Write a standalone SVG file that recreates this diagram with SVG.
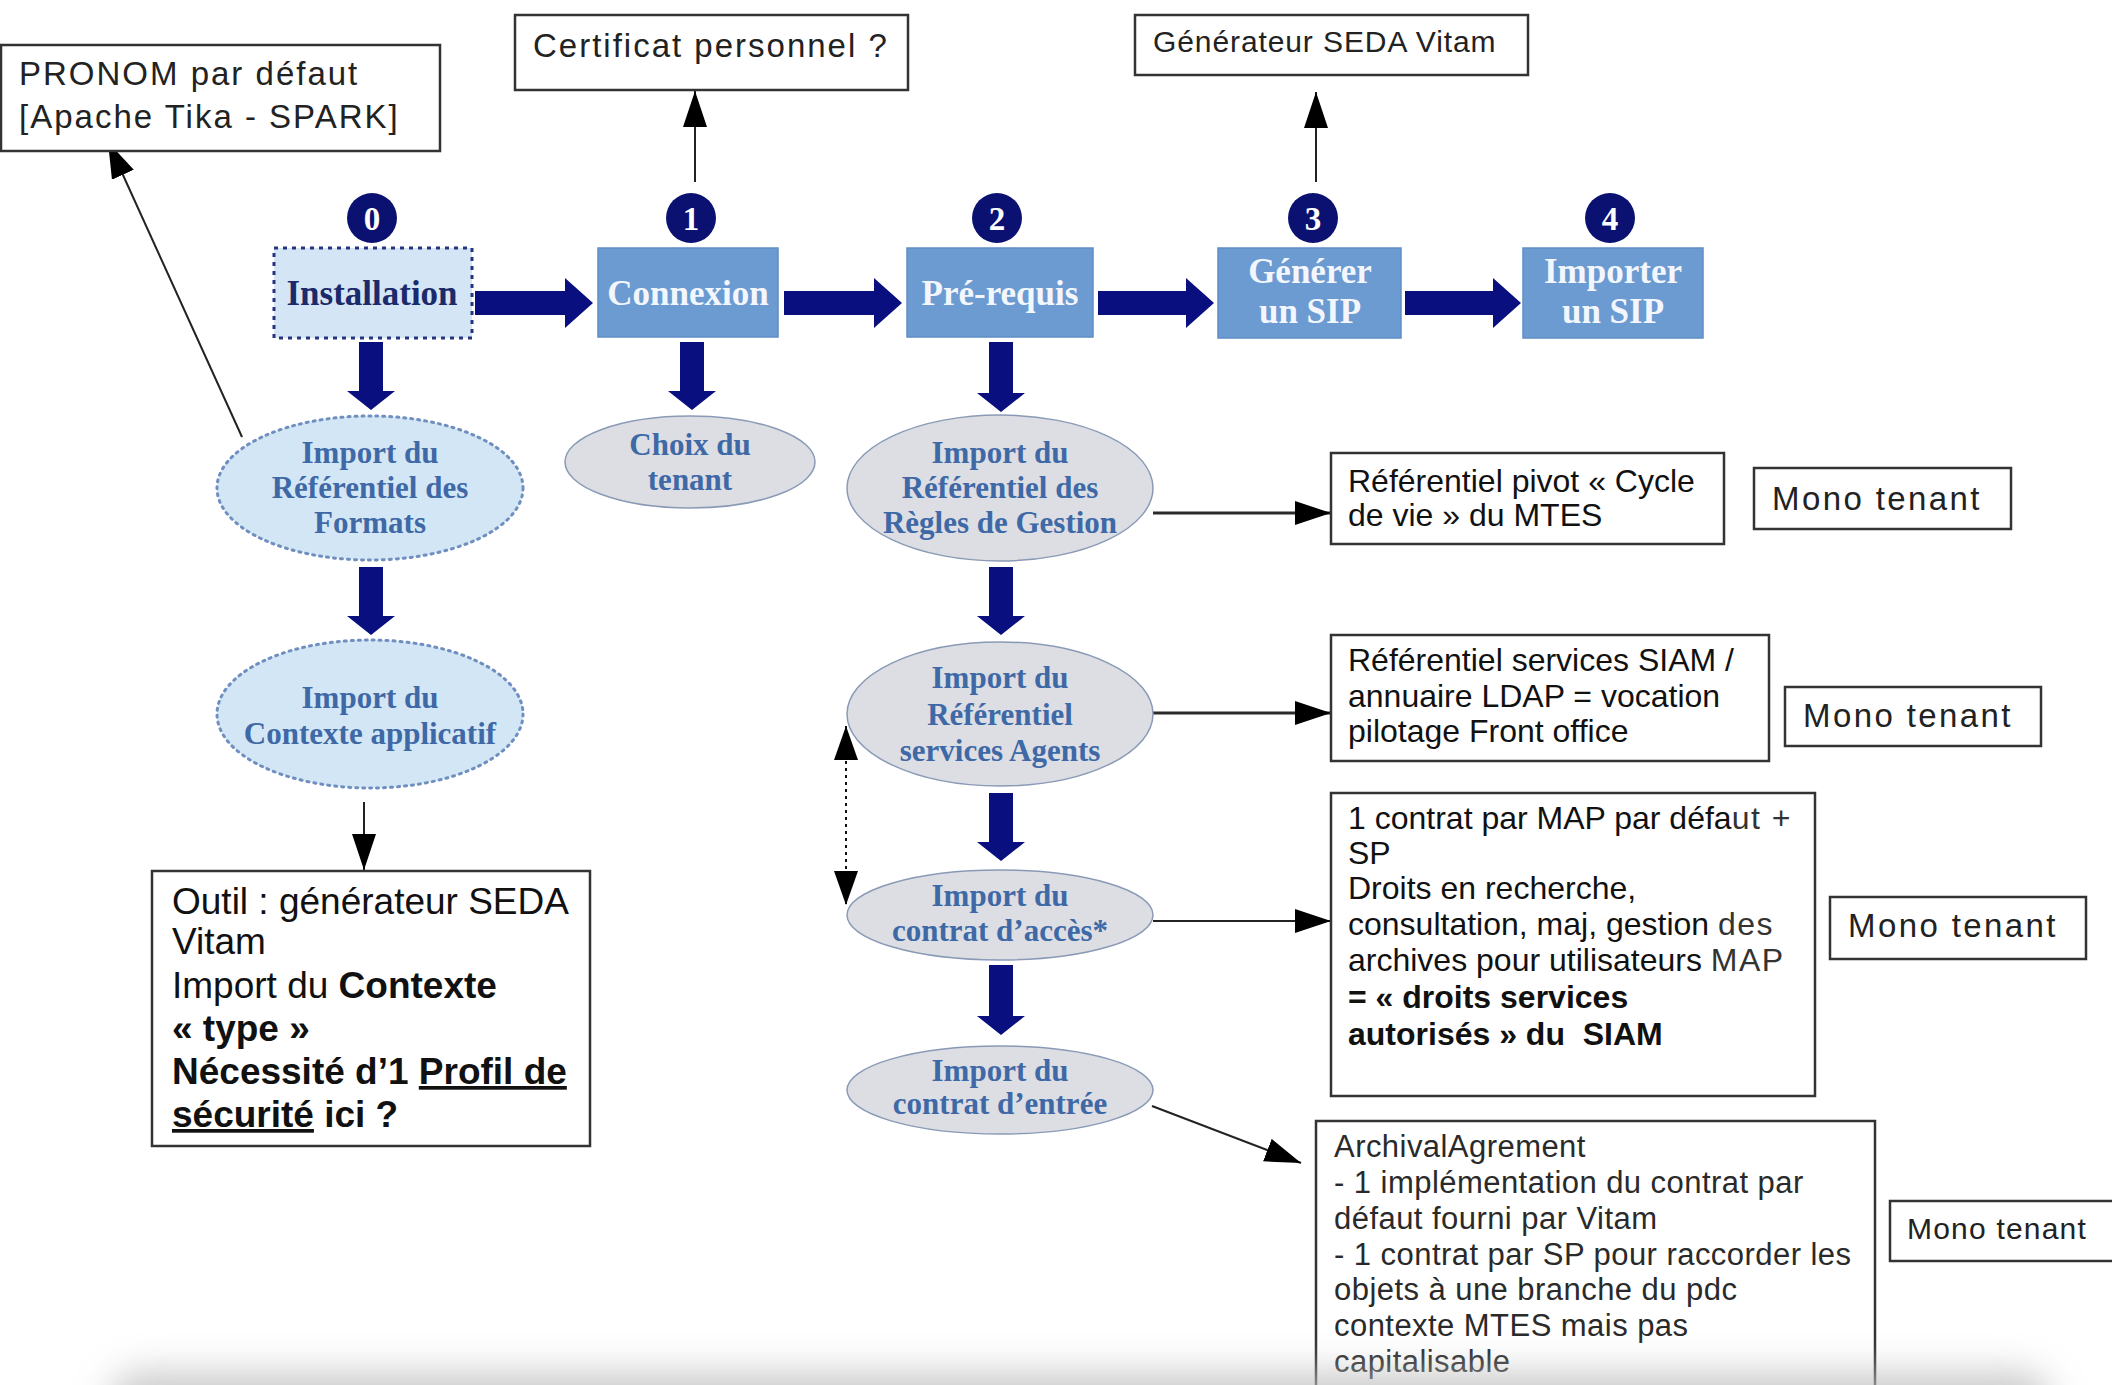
<svg xmlns="http://www.w3.org/2000/svg" width="2112" height="1385" viewBox="0 0 2112 1385">
  <defs>
    <style>
      .thick { fill: #0a0f80; }
      .step { fill: #6c9bd2; stroke: #5f8dc6; stroke-width: 1.5; }
      .steptxt { font-family: "Liberation Serif", serif; font-weight: bold; font-size: 35px; fill: #f3f7fd; text-anchor: middle; }
      .num { fill: #0b1170; }
      .numtxt { font-family: "Liberation Serif", serif; font-weight: bold; font-size: 33px; fill: #ffffff; text-anchor: middle; }
      .ell-grey { fill: #dcdee3; stroke: #8a9ab6; stroke-width: 1.5; }
      .ell-blue { fill: #d3e6f5; stroke: #6e8fc0; stroke-width: 3; stroke-dasharray: 2 5; stroke-linecap: round; }
      .etxt { font-family: "Liberation Serif", serif; font-weight: bold; font-size: 31px; fill: #3f69a6; text-anchor: middle; }
      .box { fill: #ffffff; stroke: #333333; stroke-width: 2.5; }
      .note { font-family: "Liberation Sans", Arial, sans-serif; font-size: 33px; letter-spacing: 2px; fill: #222222; }
      .body { font-family: "Liberation Sans", Arial, sans-serif; font-size: 32px; fill: #111111; }
      .thin { fill: #333333; letter-spacing: 1.5px; }
      .arch { font-family: "Liberation Sans", Arial, sans-serif; font-size: 31px; letter-spacing: 0.45px; fill: #2a2a2a; }
      .outil { font-family: "Liberation Sans", Arial, sans-serif; font-size: 37px; fill: #111111; }
      .b { font-weight: bold; }
      .u { text-decoration: underline; }
      .link { stroke: #222222; stroke-width: 2; fill: none; marker-end: url(#ah); }
      .link-heavy { stroke: #2a2a2a; stroke-width: 3; fill: none; marker-end: url(#ah); }
      .dotted { stroke: #111111; stroke-width: 2; stroke-dasharray: 3 4; fill: none; marker-start: url(#ah2); marker-end: url(#ah2); }
    </style>
    <marker id="ah" markerUnits="userSpaceOnUse" markerWidth="36" markerHeight="24" refX="36" refY="12" orient="auto">
      <path d="M0,0 L36,12 L0,24 Z" fill="#000000"/>
    </marker>
    <marker id="ah2" markerUnits="userSpaceOnUse" markerWidth="34" markerHeight="24" refX="34" refY="12" orient="auto-start-reverse">
      <path d="M0,0 L34,12 L0,24 Z" fill="#000000"/>
    </marker>
    <filter id="haze" x="-10%" y="-100%" width="120%" height="300%">
      <feGaussianBlur stdDeviation="18"/>
    </filter>
  </defs>

  <rect x="0" y="0" width="2112" height="1385" fill="#ffffff"/>

  <!-- thick flow arrows between steps -->
  <g id="connectors">
    <g class="thick">
      <polygon points="475,291 565,291 565,278 593,303 565,328 565,315 475,315"/>
      <polygon points="784,291 874,291 874,278 902,303 874,328 874,315 784,315"/>
      <polygon points="1098,291 1186,291 1186,278 1214,303 1186,328 1186,315 1098,315"/>
      <polygon points="1405,291 1493,291 1493,278 1521,303 1493,328 1493,315 1405,315"/>

      <polygon points="359,342 383,342 383,391 395,391 371,410 347,391 359,391"/>
      <polygon points="680,342 704,342 704,391 716,391 692,410 668,391 680,391"/>
      <polygon points="989,342 1013,342 1013,393 1025,393 1001,412 977,393 989,393"/>
      <polygon points="359,567 383,567 383,616 395,616 371,635 347,616 359,616"/>
      <polygon points="989,567 1013,567 1013,616 1025,616 1001,635 977,616 989,616"/>
      <polygon points="989,793 1013,793 1013,842 1025,842 1001,861 977,842 989,842"/>
      <polygon points="989,965 1013,965 1013,1016 1025,1016 1001,1035 977,1016 989,1016"/>
    </g>
    <!-- thin annotation links -->
    <line class="link" x1="695" y1="182" x2="695" y2="91"/>
    <line class="link" x1="1316" y1="182" x2="1316" y2="92"/>
    <line class="link" x1="242" y1="437" x2="108" y2="142" stroke-width="1.5"/>
    <line class="link" x1="364" y1="802" x2="364" y2="870"/>
    <line class="link-heavy" x1="1153" y1="513" x2="1331" y2="513"/>
    <line class="link-heavy" x1="1153" y1="713" x2="1331" y2="713"/>
    <line class="link" x1="1153" y1="921" x2="1331" y2="921" stroke-width="2.5"/>
    <line class="link" x1="1152" y1="1106" x2="1301" y2="1163" stroke-width="2.5"/>
    <line class="dotted" x1="846" y1="726" x2="846" y2="905"/>
  </g>

  <!-- step numbers -->
  <g id="num0"><circle class="num" cx="372" cy="218" r="25"/><text class="numtxt" x="372" y="230">0</text></g>
  <g id="num1"><circle class="num" cx="691" cy="218" r="25"/><text class="numtxt" x="691" y="230">1</text></g>
  <g id="num2"><circle class="num" cx="997" cy="218" r="25"/><text class="numtxt" x="997" y="230">2</text></g>
  <g id="num3"><circle class="num" cx="1313" cy="218" r="25"/><text class="numtxt" x="1313" y="230">3</text></g>
  <g id="num4"><circle class="num" cx="1610" cy="218" r="25"/><text class="numtxt" x="1610" y="230">4</text></g>

  <!-- main steps -->
  <g id="installation">
    <rect x="274" y="248" width="198" height="90" fill="#d4e6f6" stroke="#26357f" stroke-width="3" stroke-dasharray="4 5"/>
    <text class="steptxt" x="372" y="305" style="fill:#1b2a6b">Installation</text>
  </g>
  <g id="connexion">
    <rect class="step" x="598" y="248" width="180" height="89"/>
    <text class="steptxt" x="688" y="305">Connexion</text>
  </g>
  <g id="prerequis">
    <rect class="step" x="907" y="248" width="186" height="89"/>
    <text class="steptxt" x="1000" y="305">Pré-requis</text>
  </g>
  <g id="generer">
    <rect class="step" x="1218" y="248" width="183" height="90"/>
    <text class="steptxt" x="1310" y="283">Générer</text>
    <text class="steptxt" x="1310" y="323">un SIP</text>
  </g>
  <g id="importer">
    <rect class="step" x="1523" y="248" width="180" height="90"/>
    <text class="steptxt" x="1613" y="283">Importer</text>
    <text class="steptxt" x="1613" y="323">un SIP</text>
  </g>

  <!-- sub-steps -->
  <g id="formats">
    <ellipse class="ell-blue" cx="370" cy="488" rx="153" ry="72"/>
    <text class="etxt" x="370" y="463">Import du</text>
    <text class="etxt" x="370" y="498">Référentiel des</text>
    <text class="etxt" x="370" y="533">Formats</text>
  </g>
  <g id="contexte">
    <ellipse class="ell-blue" cx="370" cy="714" rx="153" ry="74"/>
    <text class="etxt" x="370" y="708">Import du</text>
    <text class="etxt" x="370" y="744">Contexte applicatif</text>
  </g>
  <g id="tenant">
    <ellipse class="ell-grey" cx="690" cy="462" rx="125" ry="46"/>
    <text class="etxt" x="690" y="455">Choix du</text>
    <text class="etxt" x="690" y="490">tenant</text>
  </g>
  <g id="regles">
    <ellipse class="ell-grey" cx="1000" cy="488" rx="153" ry="73"/>
    <text class="etxt" x="1000" y="463">Import du</text>
    <text class="etxt" x="1000" y="498">Référentiel des</text>
    <text class="etxt" x="1000" y="533">Règles de Gestion</text>
  </g>
  <g id="agents">
    <ellipse class="ell-grey" cx="1000" cy="714" rx="153" ry="72"/>
    <text class="etxt" x="1000" y="688">Import du</text>
    <text class="etxt" x="1000" y="725">Référentiel</text>
    <text class="etxt" x="1000" y="761">services Agents</text>
  </g>
  <g id="acces">
    <ellipse class="ell-grey" cx="1000" cy="915" rx="153" ry="45"/>
    <text class="etxt" x="1000" y="906">Import du</text>
    <text class="etxt" x="1000" y="941">contrat d’accès*</text>
  </g>
  <g id="entree">
    <ellipse class="ell-grey" cx="1000" cy="1090" rx="153" ry="44"/>
    <text class="etxt" x="1000" y="1081">Import du</text>
    <text class="etxt" x="1000" y="1114">contrat d’entrée</text>
  </g>

  <!-- annotations -->
  <g id="pronom">
    <rect class="box" x="1" y="45" width="439" height="106" stroke-width="2"/>
    <text class="note" x="19" y="85">PRONOM par défaut</text>
    <text class="note" x="19" y="128">[Apache Tika - SPARK]</text>
  </g>
  <g id="certificat">
    <rect class="box" x="515" y="15" width="393" height="75" stroke-width="2"/>
    <text class="note" x="533" y="57">Certificat personnel ?</text>
  </g>
  <g id="generateur">
    <rect class="box" x="1135" y="15" width="393" height="60" stroke-width="2"/>
    <text class="note" x="1153" y="52" style="font-size:30px;letter-spacing:0.9px">Générateur SEDA Vitam</text>
  </g>
  <g id="outil">
    <rect class="box" x="152" y="871" width="438" height="275" stroke-width="2"/>
    <text class="outil" x="172" y="914">Outil : générateur SEDA</text>
    <text class="outil" x="172" y="954">Vitam</text>
    <text class="outil" x="172" y="998">Import du <tspan class="b">Contexte</tspan></text>
    <text class="outil b" x="172" y="1041">« type »</text>
    <text class="outil b" x="172" y="1084">Nécessité d’1 <tspan class="u">Profil de</tspan></text>
    <text class="outil b" x="172" y="1127"><tspan class="u">sécurité</tspan> ici ?</text>
  </g>
  <g id="pivot">
    <rect class="box" x="1331" y="453" width="393" height="91"/>
    <text class="body" x="1348" y="492">Référentiel pivot « Cycle</text>
    <text class="body" x="1348" y="526">de vie » du MTES</text>
  </g>
  <g id="mono1">
    <rect class="box" x="1754" y="468" width="257" height="61" stroke-width="2"/>
    <text class="note" x="1772" y="510" style="letter-spacing:2.4px">Mono tenant</text>
  </g>
  <g id="siam">
    <rect class="box" x="1331" y="635" width="438" height="126"/>
    <text class="body" x="1348" y="671">Référentiel services SIAM /</text>
    <text class="body" x="1348" y="707">annuaire LDAP = vocation</text>
    <text class="body" x="1348" y="742">pilotage Front office</text>
  </g>
  <g id="mono2">
    <rect class="box" x="1785" y="687" width="256" height="59" stroke-width="2"/>
    <text class="note" x="1803" y="727" style="letter-spacing:2.4px">Mono tenant</text>
  </g>
  <g id="map">
    <rect class="box" x="1331" y="793" width="484" height="303"/>
    <text class="body" x="1348" y="829">1 contrat par MAP par défa<tspan class="thin">ut +</tspan></text>
    <text class="body" x="1348" y="864">SP</text>
    <text class="body" x="1348" y="899">Droits en recherche,</text>
    <text class="body" x="1348" y="935">consultation, maj, gestion <tspan class="thin">des</tspan></text>
    <text class="body" x="1348" y="971">archives pour utilisateurs <tspan class="thin">MAP</tspan></text>
    <text class="body b" x="1348" y="1008">= « droits services</text>
    <text class="body b" x="1348" y="1045">autorisés » du&#160; SIAM</text>
  </g>
  <g id="mono3">
    <rect class="box" x="1830" y="897" width="256" height="62" stroke-width="2"/>
    <text class="note" x="1848" y="937" style="letter-spacing:2.4px">Mono tenant</text>
  </g>
  <g id="archival">
    <rect class="box" x="1316" y="1121" width="559" height="290" stroke-width="2"/>
    <text class="arch" x="1334" y="1157">ArchivalAgrement</text>
    <text class="arch" x="1334" y="1193">- 1 implémentation du contrat par</text>
    <text class="arch" x="1334" y="1229">défaut fourni par Vitam</text>
    <text class="arch" x="1334" y="1265">- 1 contrat par SP pour raccorder les</text>
    <text class="arch" x="1334" y="1300">objets à une branche du pdc</text>
    <text class="arch" x="1334" y="1336">contexte MTES mais pas</text>
    <text class="arch" x="1334" y="1372">capitalisable</text>
  </g>
  <g id="mono4">
    <rect class="box" x="1890" y="1201" width="240" height="60" stroke-width="2"/>
    <text class="note" x="1907" y="1239" style="font-size:30px;letter-spacing:1.2px">Mono tenant</text>
  </g>

  <!-- soft page shadow along the lower edge -->
  <rect x="110" y="1372" width="1940" height="70" rx="30" fill="#bdbdbd" opacity="0.8" filter="url(#haze)"/>
</svg>
